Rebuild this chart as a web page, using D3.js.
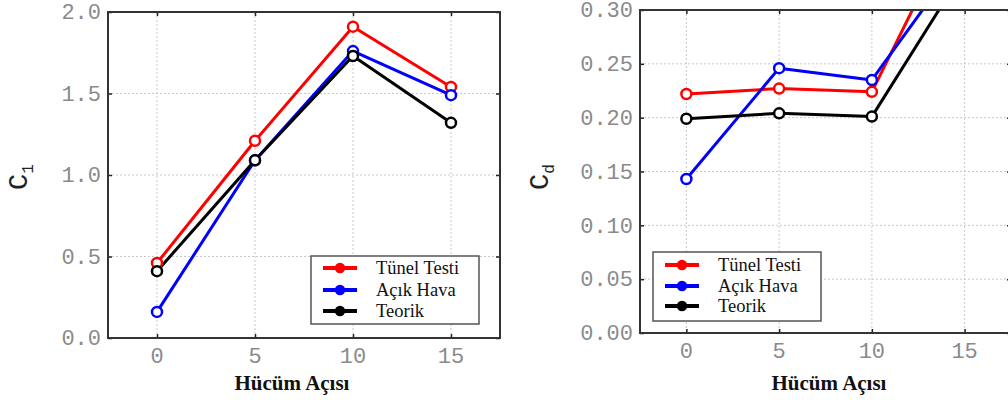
<!DOCTYPE html>
<html>
<head>
<meta charset="utf-8">
<script src="https://cdn.jsdelivr.net/npm/d3@7"></script>
<style>
  html, body { margin: 0; padding: 0; background: #fff; }
  svg { display: block; }
  .tick-label { font-family: "Liberation Mono", "DejaVu Sans Mono", monospace; font-size: 22px; fill: #8a8a8a; }
  .legend-text { font-family: "Liberation Serif", "DejaVu Serif", serif; font-size: 18.5px; fill: #111; }
  .x-title { font-family: "Liberation Serif", "DejaVu Serif", serif; font-size: 21px; font-weight: bold; fill: #111; }
  .y-title { font-family: "Liberation Mono", "DejaVu Sans Mono", monospace; fill: #222; }
</style>
</head>
<body>
<div id="chart"></div>
<script>
const angles = [0, 5, 10, 15];
const xTicks = [0, 5, 10, 15];
const seriesNames = ["Tünel Testi", "Açık Hava", "Teorik"];
const seriesColors = ["#ff0000", "#0000ff", "#000000"];

// lift coefficient
const clTunel = [0.46, 1.21, 1.91, 1.54];
const clAcik = [0.16, 1.09, 1.76, 1.49];
const clTeorik = [0.41, 1.09, 1.73, 1.32];
const clTicks = [0, 0.5, 1.0, 1.5, 2.0];

// drag coefficient
const cdTunel = [0.222, 0.227, 0.224, 0.398];
const cdAcik = [0.143, 0.246, 0.235, 0.354];
const cdTeorik = [0.199, 0.204, 0.201, 0.338];
const cdTicks = [0, 0.05, 0.10, 0.15, 0.20, 0.25, 0.30];

const svg = d3.select("#chart").append("svg")
  .attr("width", 1008)
  .attr("height", 400);

drawPanel({
  id: "cl",
  left: 108, right: 500, top: 12, bottom: 338,
  yDomain: [0, 2], yTicks: clTicks, yFormat: d3.format(".1f"),
  series: [clTunel, clAcik, clTeorik],
  yLabel: "1", yLabelX: 27, yLabelY: 190,
  xTitleX: 292,
  legend: { x: 311, y: 256, w: 168, h: 68, rows: [268, 290, 311], lineX: 323, textX: 376 }
});

drawPanel({
  id: "cd",
  left: 640, right: 1011, top: 10, bottom: 333,
  yDomain: [0, 0.3], yTicks: cdTicks, yFormat: d3.format(".2f"),
  series: [cdTunel, cdAcik, cdTeorik],
  yLabel: "d", yLabelX: 548, yLabelY: 190,
  xTitleX: 829,
  legend: { x: 653, y: 252, w: 168, h: 69, rows: [265, 286, 306], lineX: 665, textX: 718 }
});

function drawPanel(p) {
  const x = d3.scaleLinear().domain([-2.5, 17.5]).range([p.left, p.right]);
  const y = d3.scaleLinear().domain(p.yDomain).range([p.bottom, p.top]);
  const g = svg.append("g");

  g.append("clipPath").attr("id", "clip-" + p.id)
    .append("rect")
    .attr("x", p.left).attr("y", p.top)
    .attr("width", p.right - p.left).attr("height", p.bottom - p.top);

  // dotted grid
  g.append("g")
    .selectAll("line.vgrid")
    .data(xTicks)
    .enter().append("line")
    .attr("x1", d => x(d)).attr("x2", d => x(d))
    .attr("y1", p.top).attr("y2", p.bottom)
    .attr("stroke", "#c8c8c8").attr("stroke-width", 1)
    .attr("stroke-dasharray", "2,2");

  g.append("g")
    .selectAll("line.hgrid")
    .data(p.yTicks.slice(1, -1))
    .enter().append("line")
    .attr("x1", p.left).attr("x2", p.right)
    .attr("y1", d => y(d)).attr("y2", d => y(d))
    .attr("stroke", "#c8c8c8").attr("stroke-width", 1)
    .attr("stroke-dasharray", "2,2");

  // inward ticks on all sides
  const tickLen = 4;
  g.append("g").call(d3.axisBottom(x).tickValues(xTicks).tickSize(-tickLen).tickFormat(""))
    .attr("transform", `translate(0,${p.bottom})`);
  g.append("g").call(d3.axisTop(x).tickValues(xTicks).tickSize(-tickLen).tickFormat(""))
    .attr("transform", `translate(0,${p.top})`);
  g.append("g").call(d3.axisLeft(y).tickValues(p.yTicks).tickSize(-tickLen).tickFormat(""))
    .attr("transform", `translate(${p.left},0)`);
  g.append("g").call(d3.axisRight(y).tickValues(p.yTicks).tickSize(-tickLen).tickFormat(""))
    .attr("transform", `translate(${p.right},0)`);
  g.selectAll(".domain").remove();
  g.selectAll(".tick line").attr("stroke", "#222").attr("stroke-width", 1.5);

  // tick labels
  g.append("g")
    .selectAll("text")
    .data(p.yTicks)
    .enter().append("text")
    .attr("class", "tick-label")
    .attr("x", p.left - 7)
    .attr("y", d => y(d))
    .attr("dy", "0.33em")
    .attr("text-anchor", "end")
    .text(p.yFormat);

  g.append("g")
    .selectAll("text")
    .data(xTicks)
    .enter().append("text")
    .attr("class", "tick-label")
    .attr("x", d => x(d))
    .attr("y", p.bottom + 25)
    .attr("text-anchor", "middle")
    .text(d => d);

  // series
  const line = d3.line().x((d, i) => x(angles[i])).y(d => y(d));
  const plot = g.append("g").attr("clip-path", `url(#clip-${p.id})`);

  p.series.forEach((vals, si) => {
    plot.append("path")
      .datum(vals)
      .attr("d", line)
      .attr("fill", "none")
      .attr("stroke", seriesColors[si])
      .attr("stroke-width", 3)
      .attr("stroke-linejoin", "round");
  });
  p.series.forEach((vals, si) => {
    plot.selectAll(null)
      .data(vals)
      .enter().append("circle")
      .attr("cx", (d, i) => x(angles[i]))
      .attr("cy", d => y(d))
      .attr("r", 5)
      .attr("fill", "#fff")
      .attr("stroke", seriesColors[si])
      .attr("stroke-width", 2.5);
  });

  // frame
  g.append("rect")
    .attr("x", p.left).attr("y", p.top)
    .attr("width", p.right - p.left).attr("height", p.bottom - p.top)
    .attr("fill", "none").attr("stroke", "#333").attr("stroke-width", 2);

  // legend
  const L = p.legend;
  const leg = g.append("g");
  leg.append("rect")
    .attr("x", L.x).attr("y", L.y).attr("width", L.w).attr("height", L.h)
    .attr("fill", "#fff").attr("stroke", "#555").attr("stroke-width", 1.5);
  seriesNames.forEach((name, i) => {
    leg.append("line")
      .attr("x1", L.lineX).attr("x2", L.lineX + 34)
      .attr("y1", L.rows[i]).attr("y2", L.rows[i])
      .attr("stroke", seriesColors[i]).attr("stroke-width", 4);
    leg.append("circle")
      .attr("cx", L.lineX + 17).attr("cy", L.rows[i]).attr("r", 4.5)
      .attr("fill", seriesColors[i]).attr("stroke", seriesColors[i]).attr("stroke-width", 1.5);
    leg.append("text")
      .attr("class", "legend-text")
      .attr("x", L.textX).attr("y", L.rows[i])
      .attr("dy", "0.33em")
      .text(name);
  });

  // axis titles
  g.append("text")
    .attr("class", "x-title")
    .attr("x", p.xTitleX).attr("y", 390)
    .attr("text-anchor", "middle")
    .text("Hücüm Açısı");

  const yt = g.append("text")
    .attr("class", "y-title")
    .attr("transform", `translate(${p.yLabelX},${p.yLabelY}) rotate(-90)`)
    .attr("font-size", 27);
  yt.append("tspan").text("C");
  yt.append("tspan").attr("font-size", 16).attr("dy", 6).text(p.yLabel);
}
</script>
</body>
</html>
